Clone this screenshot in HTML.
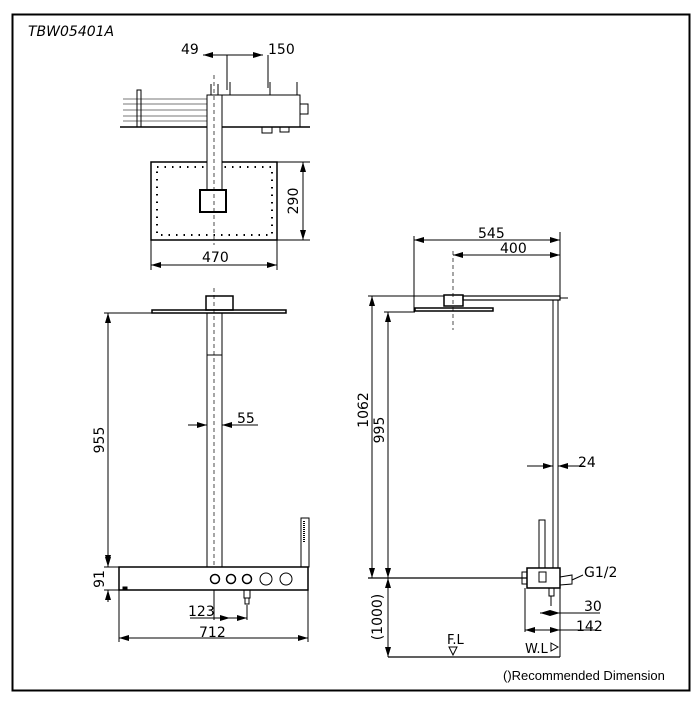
<!DOCTYPE html>
<html><head><style>
html,body{margin:0;padding:0;background:#fff;}
svg{display:block;font-family:"DejaVu Sans","Liberation Sans",sans-serif;}
</style></head><body>
<svg width="700" height="707" viewBox="0 0 700 707" xmlns="http://www.w3.org/2000/svg">
<defs>
<marker id="a" viewBox="0 0 10 6" refX="10" refY="3" markerWidth="10" markerHeight="6" orient="auto-start-reverse" markerUnits="userSpaceOnUse"><path d="M0,0L10,3L0,6z" fill="#000"/></marker>
</defs>
<rect x="12.5" y="14.5" width="677" height="676" fill="none" stroke="#000" stroke-width="2"/>
<text x="28" y="36" font-size="14" font-style="italic">TBW05401A</text>
<g stroke="#000" fill="none" stroke-width="1">
<!-- TOP VIEW -->
<line x1="120" y1="127" x2="310" y2="127" stroke-width="1.5"/>
<g stroke="#777"><line x1="123" y1="99" x2="207" y2="99"/><line x1="123" y1="104" x2="207" y2="104"/><line x1="123" y1="110" x2="207" y2="110"/><line x1="123" y1="116" x2="207" y2="116"/><line x1="123" y1="121" x2="207" y2="121"/></g>
<rect x="137" y="90" width="4" height="37"/>
<rect x="222" y="95" width="78" height="32"/>
<rect x="300" y="104" width="8" height="10"/>
<rect x="262" y="127" width="10" height="6"/>
<rect x="280" y="127" width="9" height="5"/>
<line x1="211" y1="84" x2="211" y2="95"/><line x1="218" y1="84" x2="218" y2="95"/><line x1="230" y1="82" x2="230" y2="95"/><line x1="270" y1="82" x2="270" y2="95"/><line x1="297" y1="82" x2="297" y2="95"/>
<rect x="151" y="162" width="126" height="78" stroke-width="1.5"/>
<rect x="157" y="167" width="115" height="68" stroke-dasharray="1.5 6" stroke-width="2"/>
<rect x="207" y="95" width="15" height="95" fill="#fff"/>
<rect x="200" y="190" width="26" height="22" stroke-width="2" fill="#fff"/>
<line x1="214" y1="75" x2="214" y2="245" stroke-dasharray="4 3" stroke-width="0.7"/>
<line x1="203" y1="55" x2="263" y2="55" marker-start="url(#a)" marker-end="url(#a)"/>
<line x1="227" y1="55" x2="227" y2="90"/><line x1="268" y1="55" x2="268" y2="88"/>
<line x1="303" y1="162" x2="303" y2="240" marker-start="url(#a)" marker-end="url(#a)"/>
<line x1="277" y1="162" x2="310" y2="162"/><line x1="277" y1="240" x2="310" y2="240"/>
<line x1="151" y1="265" x2="277" y2="265" marker-start="url(#a)" marker-end="url(#a)"/>
<line x1="151" y1="240" x2="151" y2="270"/><line x1="277" y1="240" x2="277" y2="270"/>
<!-- FRONT VIEW -->
<rect x="152" y="310" width="134" height="3" stroke-width="1.5"/>
<rect x="206" y="296" width="27" height="14" stroke-width="1.5"/>
<rect x="207" y="313" width="15" height="254"/>
<line x1="207" y1="355" x2="222" y2="355"/>
<line x1="214" y1="288" x2="214" y2="567" stroke-dasharray="4 3" stroke-width="0.7"/>
<line x1="104" y1="313" x2="152" y2="313"/>
<line x1="108" y1="313" x2="108" y2="565" marker-start="url(#a)" marker-end="url(#a)"/>
<line x1="188" y1="425" x2="207" y2="425" marker-end="url(#a)"/><line x1="243" y1="425" x2="222" y2="425" marker-end="url(#a)"/><line x1="222" y1="425" x2="258" y2="425"/>
<rect x="119" y="567" width="189" height="23" stroke-width="1.5"/>
<circle cx="215" cy="579" r="4.5" stroke-width="1.5"/><circle cx="231" cy="579" r="4.5" stroke-width="1.5"/><circle cx="247" cy="579" r="4.5" stroke-width="1.5"/><circle cx="266" cy="579" r="6"/><circle cx="286" cy="579" r="6"/>
<rect x="301" y="518" width="8" height="49"/>
<line x1="304" y1="521" x2="304" y2="542" stroke-width="2" stroke-dasharray="1 1"/>
<rect x="244" y="590" width="6" height="8"/><rect x="245" y="598" width="4" height="6"/>
<rect x="123" y="587" width="4" height="2" fill="#000"/>
<line x1="104" y1="567" x2="119" y2="567"/><line x1="104" y1="590" x2="119" y2="590"/>
<line x1="108" y1="555" x2="108" y2="567" marker-end="url(#a)"/><line x1="108" y1="602" x2="108" y2="590" marker-end="url(#a)"/>
<line x1="214" y1="590" x2="214" y2="620"/><line x1="247" y1="605" x2="247" y2="620"/>
<line x1="190" y1="618" x2="247" y2="618"/><line x1="214" y1="618" x2="230" y2="618" marker-end="url(#a)"/><line x1="230" y1="618" x2="247" y2="618" marker-end="url(#a)"/>
<line x1="119" y1="590" x2="119" y2="642"/><line x1="308" y1="590" x2="308" y2="642"/>
<line x1="119" y1="638" x2="308" y2="638" marker-start="url(#a)" marker-end="url(#a)"/>
<!-- SIDE VIEW -->
<line x1="414" y1="240" x2="560" y2="240" marker-start="url(#a)" marker-end="url(#a)"/>
<line x1="453" y1="255" x2="560" y2="255" marker-start="url(#a)" marker-end="url(#a)"/>
<line x1="414" y1="236" x2="414" y2="312"/><line x1="453" y1="251" x2="453" y2="330" stroke-dasharray="4 3" stroke-width="0.7"/>
<line x1="560" y1="232" x2="560" y2="298"/>
<rect x="463" y="296" width="97" height="4" stroke-width="1.2"/>
<line x1="560" y1="298" x2="568" y2="298"/>
<rect x="444" y="295" width="19" height="11" stroke-width="1.5"/>
<rect x="415" y="308" width="78" height="3" stroke-width="1.5"/>
<rect x="553" y="300" width="5" height="268"/>
<line x1="368" y1="296" x2="444" y2="296"/><line x1="384" y1="312" x2="415" y2="312"/>
<line x1="372" y1="296" x2="372" y2="578" marker-start="url(#a)" marker-end="url(#a)"/>
<line x1="388" y1="312" x2="388" y2="578" marker-start="url(#a)" marker-end="url(#a)"/>
<line x1="368" y1="578" x2="527" y2="578" stroke-width="1.2"/>
<line x1="527" y1="466" x2="553" y2="466" marker-end="url(#a)"/><line x1="584" y1="466" x2="558" y2="466" marker-end="url(#a)"/>
<rect x="539" y="520" width="6" height="48"/>
<rect x="527" y="568" width="33" height="20" stroke-width="1.5"/>
<rect x="522" y="572" width="5" height="12"/>
<rect x="539" y="572" width="7" height="10"/>
<path d="M560,577 L572,575 L572,584 L560,585" />
<line x1="572" y1="580" x2="583" y2="575"/>
<rect x="549" y="588" width="5" height="8"/><line x1="551" y1="596" x2="551" y2="606"/>
<line x1="388" y1="578" x2="388" y2="657" marker-start="url(#a)" marker-end="url(#a)"/>
<line x1="388" y1="657" x2="560" y2="657" stroke-width="1.2"/>
<line x1="525" y1="588" x2="525" y2="632"/><line x1="560" y1="588" x2="560" y2="657"/>
<line x1="540" y1="613" x2="560" y2="613" marker-start="url(#a)" marker-end="url(#a)"/><line x1="560" y1="613" x2="600" y2="613"/>
<line x1="525" y1="630" x2="560" y2="630" marker-start="url(#a)" marker-end="url(#a)"/><line x1="560" y1="630" x2="596" y2="630"/>
<path d="M449,647 L457,647 L453,655 Z"/>
<path d="M551,643 L558,647 L551,651 Z"/>
</g>
<g font-size="14" fill="#000">
<text x="181" y="54">49</text>
<text x="268" y="54">150</text>
<text x="202" y="262">470</text>
<text x="298" y="201" transform="rotate(-90 298 201)" text-anchor="middle">290</text>
<text x="237" y="423">55</text>
<text x="104" y="440" transform="rotate(-90 104 440)" text-anchor="middle">955</text>
<text x="104" y="579" transform="rotate(-90 104 579)" text-anchor="middle">91</text>
<text x="188" y="616">123</text>
<text x="199" y="637">712</text>
<text x="478" y="238">545</text>
<text x="500" y="253">400</text>
<text x="368" y="410" transform="rotate(-90 368 410)" text-anchor="middle">1062</text>
<text x="384" y="430" transform="rotate(-90 384 430)" text-anchor="middle">995</text>
<text x="578" y="467">24</text>
<text x="584" y="577">G1/2</text>
<text x="584" y="611">30</text>
<text x="576" y="631">142</text>
<text x="382" y="617" transform="rotate(-90 382 617)" text-anchor="middle">(1000)</text>
<text x="447" y="644" font-size="13">F.L</text>
<text x="525" y="653" font-size="13">W.L</text>
<text x="503" y="680" font-size="13" font-family="Liberation Sans,sans-serif">()Recommended Dimension</text>
</g>
</svg>
</body></html>
